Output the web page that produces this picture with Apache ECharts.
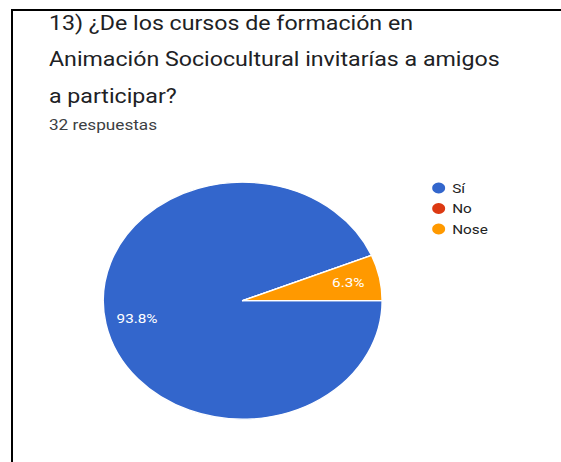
<!DOCTYPE html>
<html>
<head>
<meta charset="utf-8">
<script src="https://cdn.jsdelivr.net/npm/echarts@6/dist/echarts.min.js"></script>
<style>
  html, body { margin: 0; padding: 0; background: #fff; }
  body { width: 561px; height: 462px; position: relative; overflow: hidden; }
  /* screenshot frame: dark top and left edges */
  #frame {
    position: absolute; left: 11px; top: 9px; width: 600px; height: 500px;
    border-top: 2px solid #000; border-left: 2px solid #000; box-sizing: border-box;
  }
  /* the capture is widened horizontally; the chart is laid out narrow and stretched */
  #chart {
    position: absolute; left: 0; top: 0; width: 476.6px; height: 462px;
    transform: scaleX(1.177); transform-origin: 0 0;
  }
</style>
</head>
<body>
<div id="frame"></div>
<div id="chart"></div>
<script>
// Survey question and response count
const titleLines = [
  '13) ¿De los cursos de formación en',
  'Animación Sociocultural invitarías a amigos',
  'a participar?'
];
const subtitle = '32 respuestas';

// Answer categories and number of answers for each
const categories = ['Sí', 'No', 'Nose'];
const counts = [30, 0, 2];
const colors = ['#3366cc', '#dc3912', '#ff9900'];

const total = counts.reduce((a, b) => a + b, 0);
const pieData = categories.map((name, i) => ({ name: name, value: counts[i] }));

const chart = echarts.init(document.getElementById('chart'), null, { renderer: 'svg' });

const font = 'Roboto, "Noto Sans", sans-serif';
const lineCenters = [23.1, 59.6, 96.1];

const graphics = titleLines.map((t, i) => ({
  type: 'text',
  left: 41.6,
  top: lineCenters[i] - 12,
  style: {
    text: t,
    fill: '#202124',
    font: '19.7px ' + font,
    lineHeight: 24,
    verticalAlign: 'top'
  },
  silent: true
}));
graphics.push({
  type: 'text',
  left: 41.6,
  top: 125.4 - 9,
  style: {
    text: subtitle,
    fill: '#3c4043',
    font: '14.6px ' + font,
    lineHeight: 18
  },
  silent: true
});

chart.setOption({
  animation: false,
  color: colors,
  textStyle: { fontFamily: font },
  graphic: graphics,
  legend: {
    orient: 'vertical',
    left: 365.2,
    top: 180.5,
    padding: 0,
    icon: 'circle',
    itemWidth: 13,
    itemHeight: 13,
    itemGap: 5.5,
    data: categories,
    selectedMode: false,
    textStyle: { color: '#222', fontSize: 13, lineHeight: 13, fontFamily: font }
  },
  series: [
    {
      type: 'pie',
      center: [206.2, 300.7],
      radius: [0, 118.5],
      startAngle: 0,
      clockwise: true,
      avoidLabelOverlap: false,
      data: pieData,
      itemStyle: { borderColor: '#fff', borderWidth: 1.3 },
      label: { show: false },
      labelLine: { show: false },
      emphasis: { disabled: true }
    },
    {
      // transparent ring that only carries the percentage labels
      type: 'pie',
      center: [206.2, 300.7],
      radius: [81, 96],
      startAngle: 0,
      clockwise: true,
      silent: true,
      legendHoverLink: false,
      data: pieData,
      itemStyle: { color: 'rgba(0,0,0,0)' },
      label: {
        show: true,
        position: 'inside',
        color: '#fff',
        fontSize: 13,
        fontFamily: font,
        formatter: p => p.value > 0 ? (p.value / total * 100).toFixed(1) + '%' : ''
      },
      labelLine: { show: false },
      emphasis: { disabled: true }
    }
  ]
});
</script>
</body>
</html>
